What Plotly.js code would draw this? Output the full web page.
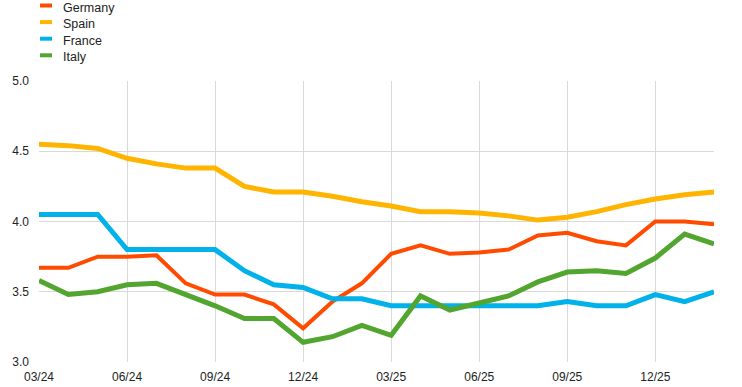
<!DOCTYPE html>
<html>
<head>
<meta charset="utf-8">
<script src="https://cdn.plot.ly/plotly-3.0.1.min.js"></script>
<style>
  html, body { margin: 0; padding: 0; background: #fff; }
  #chart { width: 742px; height: 387px; }
</style>
</head>
<body>
<div id="chart"></div>
<script>
const months = ['03/24','04/24','05/24','06/24','07/24','08/24','09/24','10/24','11/24','12/24','01/25','02/25',
                '03/25','04/25','05/25','06/25','07/25','08/25','09/25','10/25','11/25','12/25','01/26','02/26'];
const tickLabels = ['03/24','06/24','09/24','12/24','03/25','06/25','09/25','12/25'];
const yTicks = [3.0, 3.5, 4.0, 4.5, 5.0];
const seriesNames = ['Germany', 'Spain', 'France', 'Italy'];

const germany = [3.67,3.67,3.75,3.75,3.76,3.56,3.48,3.48,3.41,3.24,3.43,3.56,3.77,3.83,3.77,3.78,3.80,3.90,3.92,3.86,3.83,4.00,4.00,3.98];
const spain   = [4.55,4.54,4.52,4.45,4.41,4.38,4.38,4.25,4.21,4.21,4.18,4.14,4.11,4.07,4.07,4.06,4.04,4.01,4.03,4.07,4.12,4.16,4.19,4.21];
const france  = [4.05,4.05,4.05,3.80,3.80,3.80,3.80,3.65,3.55,3.53,3.45,3.45,3.40,3.40,3.40,3.40,3.40,3.40,3.43,3.40,3.40,3.48,3.43,3.50];
const italy   = [3.58,3.48,3.50,3.55,3.56,3.48,3.40,3.31,3.31,3.14,3.18,3.26,3.19,3.47,3.37,3.42,3.47,3.57,3.64,3.65,3.63,3.74,3.91,3.84];

const values = [germany, spain, france, italy];
const colors = ['#ff4b00', '#ffb400', '#00b1ea', '#52a52e'];
const widths = [4, 5, 5, 5];

const FONT = 'Arial, "Liberation Sans", sans-serif';

const traces = seriesNames.map((name, i) => ({
  type: 'scatter',
  mode: 'lines',
  name: name,
  x: months,
  y: values[i],
  line: { color: colors[i], width: widths[i] },
  showlegend: false,
  hoverinfo: 'x+y+name'
}));

// custom legend (short line samples like the original)
const L = 39, R = 714, T = 81, B = 362;
const W = R - L, H = B - T;
const px = v => (v - L) / W;
const py = v => (B - v) / H;

const shapes = [];
const annotations = [];
seriesNames.forEach((name, i) => {
  const yy = 5.5 + 16.6 * i;
  shapes.push({
    type: 'line', xref: 'paper', yref: 'paper',
    x0: px(40), x1: px(52), y0: py(yy), y1: py(yy),
    line: { color: colors[i], width: 4 }
  });
  annotations.push({
    xref: 'paper', yref: 'paper', x: px(61), y: py(yy + 2),
    xanchor: 'left', yanchor: 'middle', showarrow: false,
    text: name, font: { family: FONT, size: 12.5, color: '#222' }
  });
});

const layout = {
  width: 742, height: 387,
  margin: { l: L, r: 742 - R, t: T, b: 387 - B, pad: 0 },
  paper_bgcolor: '#fff', plot_bgcolor: '#fff',
  showlegend: false,
  font: { family: FONT, size: 12, color: '#222' },
  xaxis: {
    type: 'category',
    range: [0, months.length - 1],
    tickmode: 'array', tickvals: tickLabels, ticktext: tickLabels,
    showgrid: true, gridcolor: '#d9d9d9', gridwidth: 1,
    zeroline: false, showline: false,
    ticks: '', ticklabelstandoff: 6,
    tickfont: { family: FONT, size: 12, color: '#222' },
    fixedrange: true
  },
  yaxis: {
    range: [3.0, 5.0],
    tickmode: 'array', tickvals: yTicks, ticktext: yTicks.map(v => v.toFixed(1)),
    showgrid: true, gridcolor: '#d9d9d9', gridwidth: 1,
    zeroline: false, showline: false,
    ticks: '', ticklabelstandoff: 9,
    tickfont: { family: FONT, size: 12, color: '#222' },
    fixedrange: true
  },
  shapes: shapes,
  annotations: annotations
};

Plotly.newPlot('chart', traces, layout, { displayModeBar: false, staticPlot: true });
</script>
</body>
</html>
